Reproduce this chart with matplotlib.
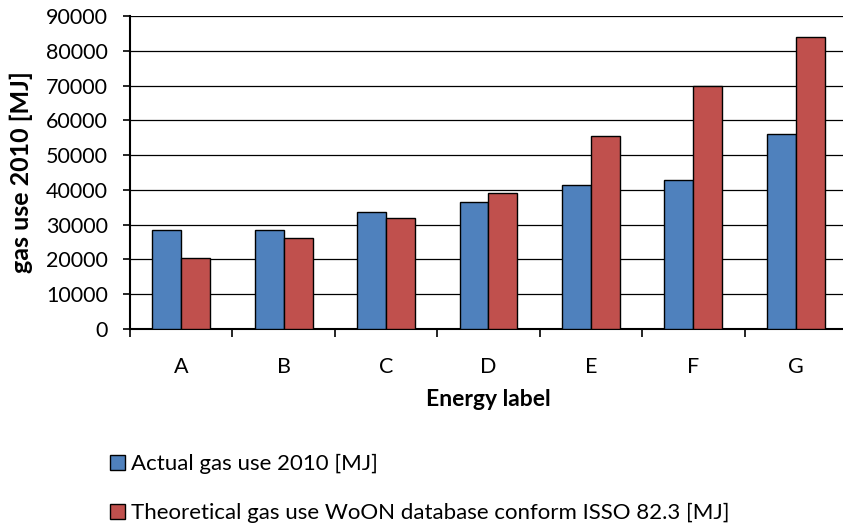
import numpy as np
import matplotlib.pyplot as plt
from matplotlib.patches import Patch

plt.rcParams['font.family'] = ['Lato', 'DejaVu Sans']

labels = ['A', 'B', 'C', 'D', 'E', 'F', 'G']
actual = [28400, 28400, 33600, 36400, 41400, 42800, 56200]
theoretical = [20400, 26300, 31900, 39000, 55400, 70000, 84000]

blue = '#4F81BD'
red = '#C0504D'

fig = plt.figure(figsize=(8.43, 5.27), dpi=100)
ax = fig.add_axes([130 / 843, 1 - 329 / 527, 717 / 843, 313 / 527])

x = np.arange(len(labels))
w = 0.283
ax.bar(x - w / 2, actual, width=w, color=blue, edgecolor='black', linewidth=1.0, zorder=3)
ax.bar(x + w / 2, theoretical, width=w, color=red, edgecolor='black', linewidth=1.0, zorder=3)

ax.set_xlim(-0.5, len(labels) - 0.5)
ax.set_ylim(0, 90000)
ax.set_yticks(np.arange(0, 90001, 10000))
ax.yaxis.grid(True, color='black', linewidth=0.9, zorder=0)
ax.set_axisbelow(True)

ax.set_xticks(x)
ax.set_xticklabels(labels)
ax.set_xticks(np.arange(-0.5, len(labels)), minor=True)
ax.tick_params(axis='x', which='major', length=0, pad=20, labelsize=15.5)
ax.tick_params(axis='x', which='minor', length=6, width=1.2, direction='out')
ax.tick_params(axis='y', length=5, width=1.2, pad=11, labelsize=15.5)

for s in ['top', 'right']:
    ax.spines[s].set_visible(False)
for s in ['left', 'bottom']:
    ax.spines[s].set_linewidth(1.5)

ax.set_xlabel('Energy label', fontsize=16.5, fontweight='bold', labelpad=9)
ax.set_ylabel('gas use 2010 [MJ]', fontsize=18, fontweight='bold', labelpad=9)

handles = [
    Patch(facecolor=blue, edgecolor='black', linewidth=1.0),
    Patch(facecolor=red, edgecolor='black', linewidth=1.0),
]
names = ['Actual gas use 2010 [MJ]',
         'Theoretical gas use WoON database conform ISSO 82.3 [MJ]']
fig.legend(handles, names, loc='upper left', bbox_to_anchor=(110 / 843, 1 - 454 / 527),
           frameon=False, fontsize=16, handlelength=0.68, handleheight=0.68,
           handletextpad=0.26, labelspacing=1.3, borderpad=0, borderaxespad=0)

fig.savefig('out.png', dpi=100)
